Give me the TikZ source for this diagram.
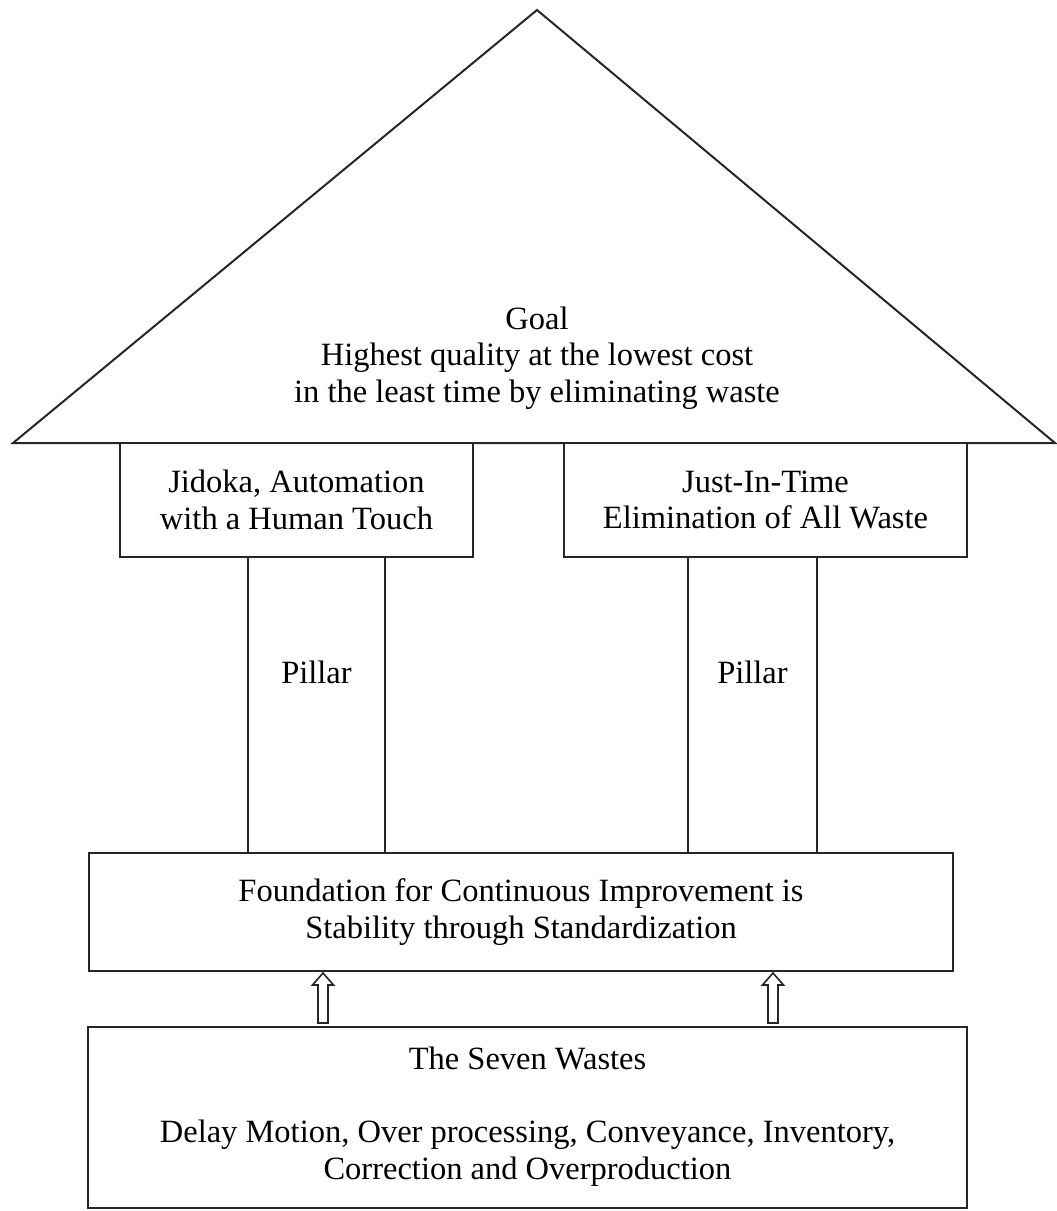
\documentclass[tikz,border=0pt]{standalone}
\usepackage{fontspec}
\setmainfont{Liberation Serif}
\usetikzlibrary{calc}
\begin{document}
\begin{tikzpicture}[x=1pt,y=-1pt,
  line/.style={draw=black!85, line width=2pt, line join=miter},
  box/.style={line, rectangle, inner sep=0pt, align=center,
    font=\fontsize{32.5}{36.5}\selectfont, text=black},
  txt/.style={inner sep=0pt, align=center, font=\fontsize{32.5}{36.5}\selectfont, text=black},
  hollow/.style={draw=black!85, line width=1.6pt, fill=white, line join=miter}
]
\useasboundingbox (0,0) rectangle (1057,1211);
% roof
\coordinate (apex) at (537,10);
\coordinate (eaveL) at (13,443);
\coordinate (eaveR) at (1055,443);
\draw[line] (eaveL) -- (apex) -- (eaveR) -- cycle;
\node[txt] (goal) at (537,358) {Goal\\Highest quality at the lowest cost\\in the least time by eliminating waste};
% pillars
\node[box, minimum width=137, minimum height=296] (pillarL) at (316.5,705) {};
\node[txt] at (316.5,672) {Pillar};
\node[box, minimum width=129, minimum height=296] (pillarR) at (752.5,705) {};
\node[txt] at (752.5,672) {Pillar};
% capitals
\node[box, fill=white, minimum width=353, minimum height=114] (jidoka) at (296.5,500) {Jidoka, Automation\\with a Human Touch};
\node[box, fill=white, minimum width=403, minimum height=114] (jit) at (765.5,500) {Just-In-Time\\Elimination of All Waste};
% foundation
\node[box, minimum width=864, minimum height=118] (found) at (521,912) {Foundation for Continuous Improvement is\\Stability through Standardization};
% seven wastes
\node[box, minimum width=879, minimum height=181] (wastes) at (527.5,1117.5) {};
\node[txt] (w1) at (527.5,1058) {The Seven Wastes};
\node[txt] (w2) at (527.5,1153) {Delay Motion, Over processing, Conveyance, Inventory,\\Correction and Overproduction};
% hollow arrows
\foreach \ax in {323,773}{
  \draw[hollow] (\ax,973) -- (\ax+10.5,985) -- (\ax+5,985) -- (\ax+5,1023)
    -- (\ax-5,1023) -- (\ax-5,985) -- (\ax-10.5,985) -- cycle;
}
\end{tikzpicture}
\end{document}
